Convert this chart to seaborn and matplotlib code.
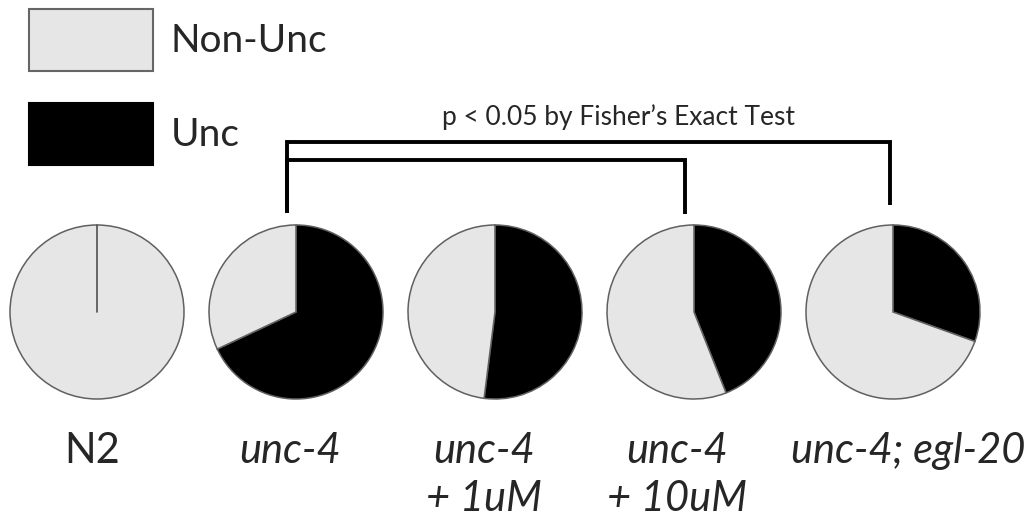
import numpy as np
import matplotlib
matplotlib.use('Agg')
import matplotlib.pyplot as plt
from matplotlib.patches import Patch
import seaborn as sns

# percent of animals scored Unc per strain
strains = ['N2', 'unc-4', 'unc-4', 'unc-4', 'unc-4; egl-20']
treatments = ['', '', '+ 1uM', '+ 10uM', '']
unc_pct = [0, 68, 52, 44, 30.5]
non_unc_pct = [100 - v for v in unc_pct]
# comparisons marked significant (pie index pairs)
sig_pairs = [(1, 4), (1, 3)]
sig_text = 'p < 0.05 by Fisher\u2019s Exact Test'

sns.set_theme(style="white")
plt.rcParams['font.family'] = ['Lato', 'DejaVu Sans']

colors = ['#000000', '#e6e6e6']
H = 523

fig = plt.figure(figsize=(10.34, 5.23), dpi=100)
ax = fig.add_axes([0, 0, 1, 1])

# layout (pixels)
cx0, step, cy, rad = 97, 199, H - 312, 87
centers = [cx0 + step * i for i in range(len(strains))]
label_x = [92, 290, 484, 677, 908]
brk_x = {1: 287, 3: 685, 4: 890}
brk_bottom = {1: 213, 3: 214, 4: 205}
brk_level = [142, 160]

for i, (u, n) in enumerate(zip(unc_pct, non_unc_pct)):
    ax.pie([u, n], colors=colors, startangle=90, counterclock=False,
           center=(centers[i], cy), radius=rad,
           wedgeprops=dict(edgecolor='#606060', linewidth=1.1))
    if u == 0:
        ax.plot([centers[i], centers[i]], [cy, cy + rad], color='#505050', lw=1.2)
    style = 'normal' if strains[i] == 'N2' else 'italic'
    ax.text(label_x[i], H - 463, strains[i], ha='center', va='baseline',
            fontsize=30, style=style)
    if treatments[i]:
        ax.text(label_x[i], H - 511, treatments[i], ha='center', va='baseline',
                fontsize=30, style='italic')

# significance brackets
for (a, b), lev in zip(sig_pairs, brk_level):
    xa, xb = brk_x[a], brk_x[b]
    ax.plot([xa, xa, xb, xb], [H - brk_bottom[a], H - lev, H - lev, H - brk_bottom[b]],
            color='black', lw=2.8, solid_joinstyle='miter', solid_capstyle='butt')
ax.text(618, H - 125, sig_text, ha='center', va='baseline', fontsize=19)

ax.set_xlim(0, 1034)
ax.set_ylim(0, H)
ax.set_aspect('equal')
ax.axis('off')

handles = [Patch(facecolor=colors[1], edgecolor='#666666', linewidth=1.5, label='Non-Unc'),
           Patch(facecolor=colors[0], edgecolor='black', linewidth=1.5, label='Unc')]
fig.legend(handles=handles, loc='upper left', bbox_to_anchor=(29 / 1034, 1 - 9 / H),
           frameon=False, fontsize=28, borderpad=0, borderaxespad=0,
           handlelength=3.2, handleheight=2.07, labelspacing=0.82, handletextpad=0.45)

fig.savefig('out.png', dpi=100)
